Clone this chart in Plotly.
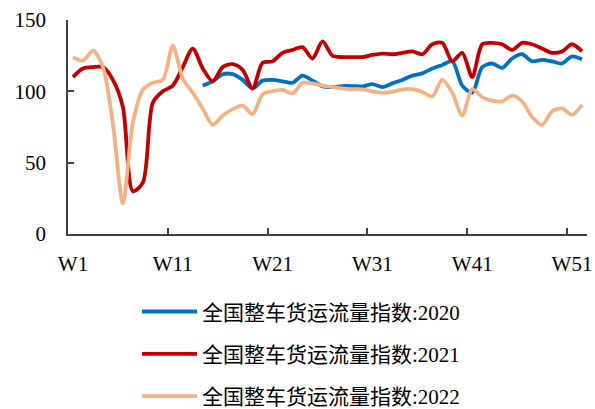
import plotly.graph_objects as go

weeks = list(range(1, 53))
tick_weeks = [1, 11, 21, 31, 41, 51]
tick_text = ["W1", "W11", "W21", "W31", "W41", "W51"]
tick_bounds = [0.5, 10.5, 20.5, 30.5, 40.5, 50.5]

names = ["全国整车货运流量指数:2020", "全国整车货运流量指数:2021", "全国整车货运流量指数:2022"]

idx2020 = [None] * 13 + [104, 107, 112, 112, 108, 102, 107.5,
                         108, 107, 106, 111, 107.5, 103.5, 103, 103.7, 103.7, 103.5,
                         105, 103, 105.6, 108, 111, 112.6, 116, 118.5, 121, 104,
                         99, 117, 119.5, 116.5, 123, 126, 121, 122, 121, 119.5, 124.5, 122.5]
idx2021 = [110, 116, 117, 117, 108, 89, 30, 36, 92, 100,
           104, 117, 130, 116, 107, 117, 119, 115, 102, 120,
           121, 127, 129, 131, 123, 135, 125, 124, 124, 124,
           125.5, 126.5, 126, 127, 128, 126, 133, 134, 121, 127,
           110, 133, 134, 133, 129, 134, 133, 130, 127, 128, 133, 128]
idx2022 = [124, 121.5, 128.5, 117, 77, 21.5, 78, 101, 106, 108,
           132, 109, 99, 88, 76.5, 83, 87.5, 90, 84, 98,
           100, 101, 98.5, 106, 105.5, 104, 103, 102, 101.5, 101.4,
           100, 99, 99.7, 101.4, 101.5, 99.5, 96.5, 108, 99, 83,
           101.5, 96, 93.5, 93, 97, 93, 82, 76.5, 86, 88, 83.5, 90.5]

colors = ["#0070C0", "#C00000", "#F4B183"]
series = [idx2020, idx2021, idx2022]

fig = go.Figure()
for i, (nm, ys, c) in enumerate(zip(names, series, colors)):
    fig.add_trace(go.Scatter(
        x=weeks, y=ys, name=nm, mode="lines",
        line=dict(color=c, width=3.8, shape="spline", smoothing=0.8),
        legendgroup=f"g{i}", connectgaps=False,
    ))

# invisible trace to carry the boundary tick marks axis
fig.add_trace(go.Scatter(x=[weeks[0], weeks[-1]], y=[None, None], xaxis="x2",
                         showlegend=False, hoverinfo="skip"))

font_fam = "Liberation Serif, Times New Roman, Noto Sans CJK SC, serif"
axis_col = "#404040"

fig.update_layout(
    width=595, height=409,
    margin=dict(l=68, r=8, t=20, b=175, autoexpand=False),
    paper_bgcolor="white", plot_bgcolor="white",
    font=dict(family=font_fam, size=21, color="black"),
    xaxis=dict(
        range=[0.5, 52.5], tickmode="array", tickvals=tick_weeks, ticktext=tick_text,
        ticks="", showgrid=False, zeroline=False,
        showline=True, linecolor=axis_col, linewidth=1.5,
        ticklabelstandoff=10,
        tickfont=dict(family=font_fam, size=21),
    ),
    xaxis2=dict(
        range=[0.5, 52.5], overlaying="x", side="bottom", anchor="y",
        tickmode="array", tickvals=tick_bounds, ticks="inside", ticklen=6,
        tickwidth=1.5, tickcolor=axis_col, showticklabels=False,
        showgrid=False, zeroline=False, showline=False,
    ),
    yaxis=dict(
        range=[0, 150], tickmode="array", tickvals=[0, 50, 100, 150],
        ticks="inside", ticklen=6, tickwidth=1.5, tickcolor=axis_col,
        showgrid=False, zeroline=False,
        showline=True, linecolor=axis_col, linewidth=1.5,
        ticklabelstandoff=16,
        tickfont=dict(family=font_fam, size=21),
    ),
    legend=dict(
        orientation="v", x=0.133, xanchor="left", y=-0.268, yanchor="top",
        font=dict(family=font_fam, size=21),
        tracegroupgap=12, itemwidth=55, bgcolor="rgba(0,0,0,0)",
    ),
    showlegend=True,
)

fig.write_html("out.html")
